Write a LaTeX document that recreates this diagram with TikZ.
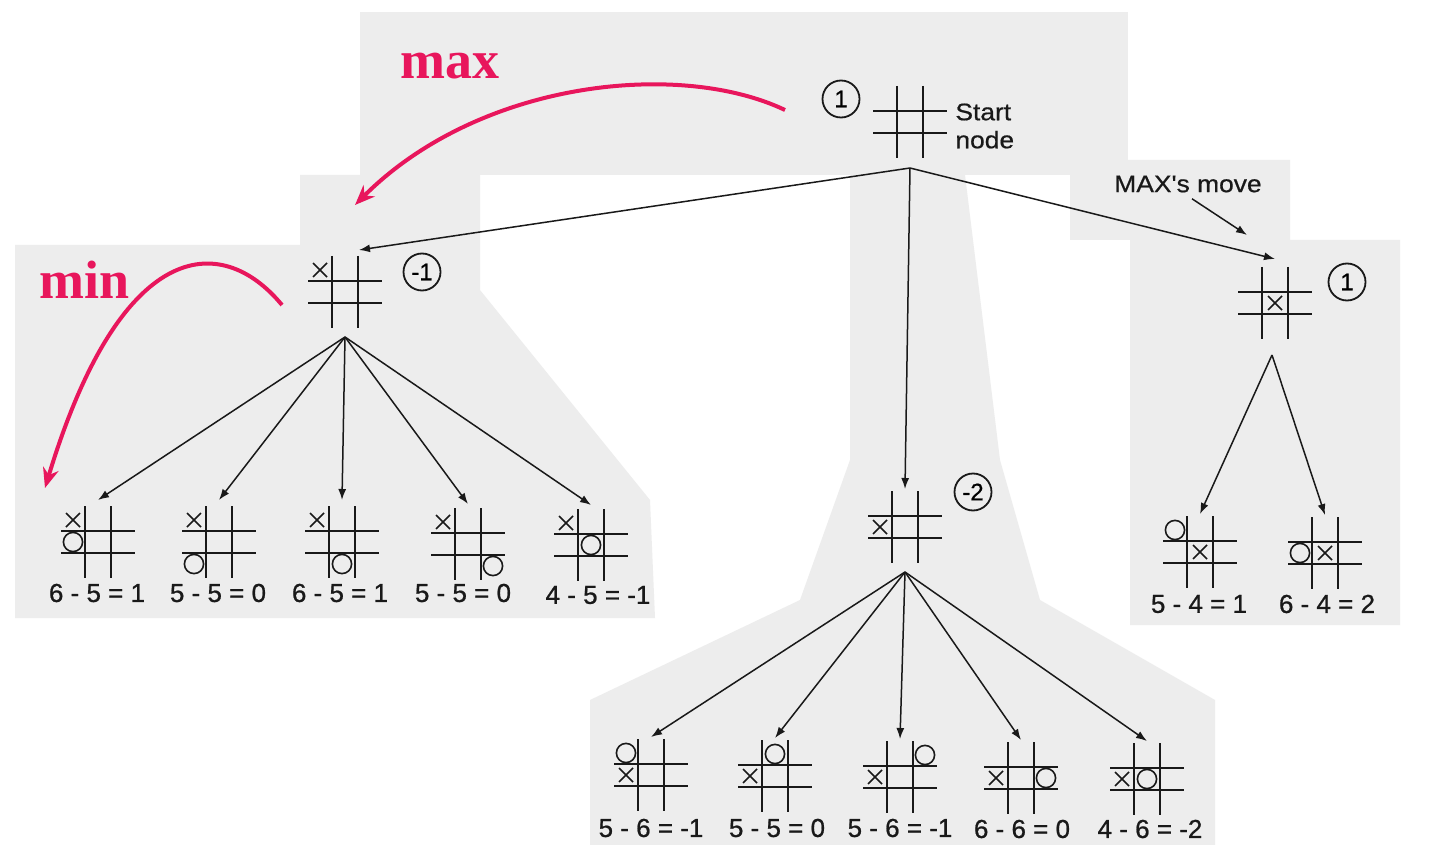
\documentclass[tikz,border=0pt]{standalone}
\usepackage{fontspec}
\setmainfont{Liberation Sans}
\newfontfamily\redfont{Liberation Serif}
\newfontfamily\scanfont[FakeStretch=1.1,FakeBold=0.6]{Liberation Sans}
\newfontfamily\labfont[FakeBold=0.8]{Liberation Sans}
\usetikzlibrary{arrows.meta}
\definecolor{scan}{RGB}{237,237,237}
\definecolor{hot}{RGB}{232,22,92}
\definecolor{ink}{RGB}{25,25,25}
\newcommand\board[2]{\begin{scope}[shift={(#1.center)}]
  \draw[gridline] (-13,-36)--(-13,36) (13,-36)--(13,36) (-37,-11)--(37,-11) (-37,11)--(37,11);
  #2\end{scope}}
\newcommand\xmk[2]{\draw[markline] ({#1*25-7},{#2*22-7}) -- ({#1*25+7},{#2*22+7}) ({#1*25-7},{#2*22+7}) -- ({#1*25+7},{#2*22-7});}
\newcommand\omk[2]{\draw[markline] ({#1*25},{#2*22}) circle[radius=4.8pt];}
\tikzset{
  bd/.style={minimum width=37.5pt, minimum height=36pt, inner sep=0pt, outer sep=0pt},
  gridline/.style={ink, line width=1pt},
  markline/.style={ink, line width=0.8pt},
  edge/.style={ink, line width=0.75pt, -{Latex[length=5.5pt,width=4pt]}},
  redarrow/.style={hot, line width=2pt, -{Stealth[length=10pt,width=8pt]}},
  score/.style={draw=ink, circle, line width=0.9pt, minimum size=18.5pt, inner sep=0pt, font=\labfont\fontsize{12}{12}\selectfont},
  lab/.style={ink, font=\labfont\fontsize{13}{15}\selectfont, inner sep=0pt},
  redtxt/.style={hot, font=\redfont\bfseries\fontsize{27}{27}\selectfont, inner sep=0pt}
}
\begin{document}
\begin{tikzpicture}[x=0.5pt,y=-0.5pt]
\useasboundingbox (0,0) rectangle (1445,845);
\fill[white] (0,0) rectangle (1445,845);
% scanned background
\fill[scan] (360,12) rectangle (1128,175);
\fill[scan] (300,175) -- (480,175) -- (480,290) -- (650,500) -- (655,618) -- (15,618) -- (15,245) -- (300,245) -- cycle;
\fill[scan] (850,175) -- (965,175) -- (1000,460) -- (1040,600) -- (1215,700) -- (1215,845) -- (590,845) -- (590,700) -- (800,600) -- (850,460) -- cycle;
\fill[scan] (1070,160) -- (1290,160) -- (1290,240) -- (1400,240) -- (1400,625) -- (1130,625) -- (1130,240) -- (1070,240) -- cycle;

% boards
\node[bd] (b0) at (910,122) {};
\node[bd] (b1) at (345,292) {};
\node[bd] (b2) at (905,527) {};
\node[bd] (b3) at (1275,303) {};
\node[bd] (c1) at (98,542) {};
\node[bd] (c2) at (219,542) {};
\node[bd] (c3) at (342,542) {};
\node[bd] (c4) at (468,544) {};
\node[bd] (c5) at (591,545) {};
\node[bd] (m1) at (651,775) {};
\node[bd] (m2) at (775,776) {};
\node[bd] (m3) at (900,777) {};
\node[bd] (m4) at (1021,778) {};
\node[bd] (m5) at (1147,779) {};
\node[bd] (r1) at (1200,552) {};
\node[bd] (r2) at (1325,553) {};

\board{b0}{}
\board{b1}{\xmk{-1}{-1}}
\board{b2}{\xmk{-1}{0}}
\board{b3}{\xmk{0}{0}}
\board{c1}{\xmk{-1}{-1}\omk{-1}{0}}
\board{c2}{\xmk{-1}{-1}\omk{-1}{1}}
\board{c3}{\xmk{-1}{-1}\omk{0}{1}}
\board{c4}{\xmk{-1}{-1}\omk{1}{1}}
\board{c5}{\xmk{-1}{-1}\omk{0}{0}}
\board{m1}{\xmk{-1}{0}\omk{-1}{-1}}
\board{m2}{\xmk{-1}{0}\omk{0}{-1}}
\board{m3}{\xmk{-1}{0}\omk{1}{-1}}
\board{m4}{\xmk{-1}{0}\omk{1}{0}}
\board{m5}{\xmk{-1}{0}\omk{0}{0}}
\board{r1}{\xmk{0}{0}\omk{-1}{-1}}
\board{r2}{\xmk{0}{0}\omk{-1}{0}}

% scores
\node[score] (s0) at (841,99) {1};
\node[score] (s1) at (422,272) {-1};
\node[score] (s2) at (973,492) {-2};
\node[score] (s3) at (1347,282) {1};

% texts
\node[ink, anchor=west, align=left, inner sep=0pt, font=\scanfont\fontsize{12}{14}\selectfont] (st) at (955,126) {Start\\node};
\node[ink, inner sep=0pt, font=\scanfont\fontsize{12}{14}\selectfont] (mv) at (1188,184) {MAX's move};
\node[redtxt] (tmax) at (450,66) {max};
\node[redtxt] (tmin) at (85,280) {min};

% labels
\node[lab] (lc1) at (97,593) {6 - 5 = 1};
\node[lab] (lc2) at (218,593) {5 - 5 = 0};
\node[lab] (lc3) at (340,593) {6 - 5 = 1};
\node[lab] (lc4) at (463,593) {5 - 5 = 0};
\node[lab] (lc5) at (598,595) {4 - 5 = -1};
\node[lab] (lm1) at (651,828) {5 - 6 = -1};
\node[lab] (lm2) at (777,828) {5 - 5 = 0};
\node[lab] (lm3) at (900,828) {5 - 6 = -1};
\node[lab] (lm4) at (1022,829) {6 - 6 = 0};
\node[lab] (lm5) at (1150,829) {4 - 6 = -2};
\node[lab] (lr1) at (1199,604) {5 - 4 = 1};
\node[lab] (lr2) at (1327,604) {6 - 4 = 2};

% junctions
\coordinate (j0) at (910,168);
\coordinate (j1) at (345,337);
\coordinate (j2) at (905,572);
\coordinate (j3) at (1272,355);
\coordinate (mvend) at (1247,235);

% edges
\draw[edge] (j0) -- ([xshift=7pt,yshift=3pt]b1.north);
\draw[edge] (j0) -- ([yshift=1pt]b2.north);
\draw[edge] (j0) -- ([yshift=4pt]b3.north);
\draw[edge] ([xshift=2pt,yshift=-3pt]mv.south) -- (mvend);
\foreach \c in {c1,c2,c3}{\draw[edge] (j1) -- ([yshift=3pt]\c.north);}
\foreach \c in {c4,c5}{\draw[edge] (j1) -- ([yshift=2pt]\c.north);}
\foreach \c in {m1,m2,m3,m4,m5}{\draw[edge] (j2) -- ([yshift=1pt]\c.north);}
\foreach \c in {r1,r2}{\draw[edge] (j3) -- ([yshift=1pt]\c.north);}

% red arrows
\coordinate (ra0) at (785,110);
\coordinate (ra1) at (355,205);
\coordinate (rb0) at (282,305);
\coordinate (rb1) at (45,488);
\draw[redarrow] (ra0) .. controls (680,60) and (480,80) .. (ra1);
\draw[redarrow] (rb0) .. controls (220,230) and (120,240) .. (rb1);
\end{tikzpicture}
\end{document}
